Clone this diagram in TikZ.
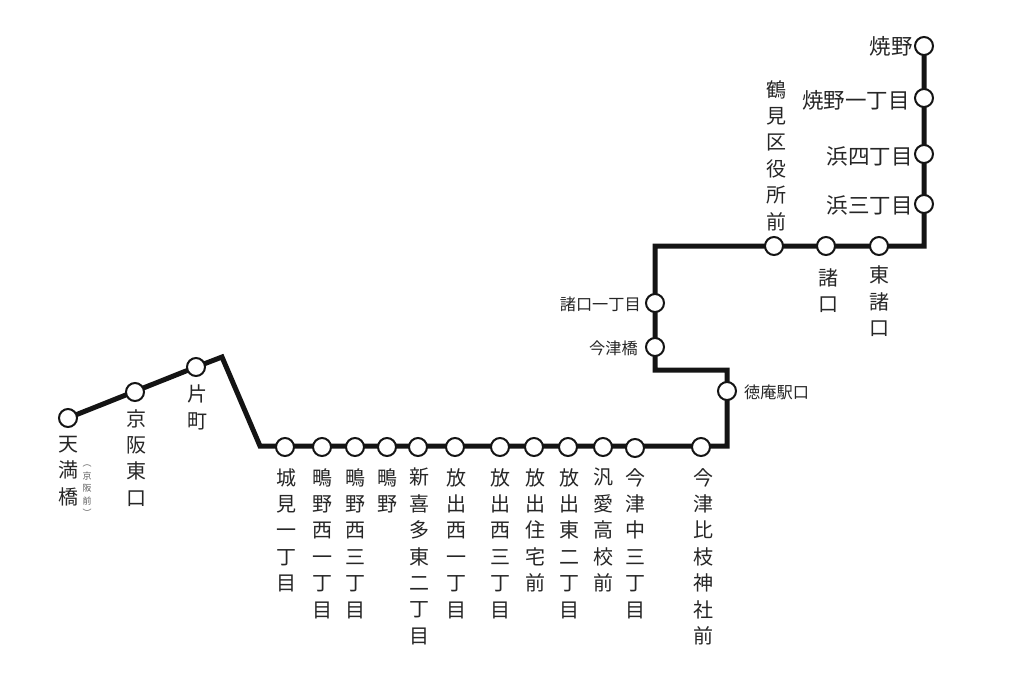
\documentclass[tikz,border=0pt]{standalone}
\usepackage{fontspec}
\usetikzlibrary{backgrounds}
\newfontfamily\jp{Noto Sans CJK JP}
\tikzset{x=1pt,y=-1pt,
 track/.style={line width=5pt,line join=miter,black!92},
 stn/.style={circle,draw=black!92,line width=2pt,fill=white,minimum size=18pt,inner sep=0pt},
 vlab/.style={anchor=north,inner sep=0pt,align=center,font=\jp\fontsize{20}{26.4}\selectfont,text=black!85},
 hlab/.style={anchor=east,inner sep=0pt,font=\jp\fontsize{21.5}{24}\selectfont,text=black!85},
 slab/.style={inner sep=0pt,font=\jp\fontsize{16.2}{18}\selectfont,text=black!85},
 tiny/.style={anchor=north,inner sep=0pt,align=center,font=\jp\fontsize{9}{12.5}\selectfont,text=black!65}}
\begin{document}
\begin{tikzpicture}
\useasboundingbox (0,0) rectangle (1024,683);
\coordinate (c1) at (222,357);
\coordinate (c2) at (260,446);
\coordinate (c3) at (727,446);
\coordinate (c4) at (727,370);
\coordinate (c5) at (655,370);
\coordinate (c6) at (655,246);
\coordinate (c7) at (924,246);
\node[stn] (s1) at (68,418) {};
\node[stn] (s2) at (135,392) {};
\node[stn] (s3) at (196,367) {};
\node[stn] (s4) at (285,447) {};
\node[stn] (s5) at (322,447) {};
\node[stn] (s6) at (355,447) {};
\node[stn] (s7) at (387,447) {};
\node[stn] (s8) at (418,447) {};
\node[stn] (s9) at (455,447) {};
\node[stn] (s10) at (500,447) {};
\node[stn] (s11) at (534,447) {};
\node[stn] (s12) at (568,447) {};
\node[stn] (s13) at (603,447) {};
\node[stn] (s14) at (635,448) {};
\node[stn] (s15) at (701,447) {};
\node[stn] (s16) at (727,391) {};
\node[stn] (s17) at (655,347) {};
\node[stn] (s18) at (655,303) {};
\node[stn] (s19) at (774,246) {};
\node[stn] (s20) at (826,246) {};
\node[stn] (s21) at (879,246) {};
\node[stn] (s22) at (924,204) {};
\node[stn] (s23) at (924,154) {};
\node[stn] (s24) at (924,98) {};
\node[stn] (s25) at (924,46) {};
\begin{scope}[on background layer]
\draw[track] (s1.center) -- (s3.center) -- (c1) -- (c2) -- (c3) -- (c4) -- (c5) -- (c6) -- (c7) -- (s25.center);
\end{scope}
\node[vlab] (l1) at (68,436) {天\\満\\橋};
\node[tiny] (l1b) at (87,465) {︵\\京\\阪\\前\\︶};
\node[vlab] (l2) at (136,409) {京\\阪\\東\\口};
\node[vlab] (l3) at (197,385) {片\\町};
\node[vlab] (l4) at (286,468) {城\\見\\一\\丁\\目};
\node[vlab] (l5) at (322,468) {鴫\\野\\西\\一\\丁\\目};
\node[vlab] (l6) at (355,468) {鴫\\野\\西\\三\\丁\\目};
\node[vlab] (l7) at (387,468) {鴫\\野};
\node[vlab] (l8) at (419,468) {新\\喜\\多\\東\\二\\丁\\目};
\node[vlab] (l9) at (456,468) {放\\出\\西\\一\\丁\\目};
\node[vlab] (l10) at (500,468) {放\\出\\西\\三\\丁\\目};
\node[vlab] (l11) at (535,468) {放\\出\\住\\宅\\前};
\node[vlab] (l12) at (569,468) {放\\出\\東\\二\\丁\\目};
\node[vlab] (l13) at (603,468) {汎\\愛\\高\\校\\前};
\node[vlab] (l14) at (635,468) {今\\津\\中\\三\\丁\\目};
\node[vlab] (l15) at (703,468) {今\\津\\比\\枝\\神\\社\\前};
\node[vlab] (l19) at (776,80) {鶴\\見\\区\\役\\所\\前};
\node[vlab] (l20) at (828,268) {諸\\口};
\node[vlab] (l21) at (879,266) {東\\諸\\口};
\node[slab,anchor=west] (l16) at (744,392) {徳庵駅口};
\node[slab,anchor=east] (l17) at (638,348) {今津橋};
\node[slab,anchor=east] (l18) at (641,304) {諸口一丁目};
\node[hlab] (l22) at (913,205) {浜三丁目};
\node[hlab] (l23) at (913,156) {浜四丁目};
\node[hlab] (l24) at (910,100) {焼野一丁目};
\node[hlab] (l25) at (913,46) {焼野};
\end{tikzpicture}
\end{document}
